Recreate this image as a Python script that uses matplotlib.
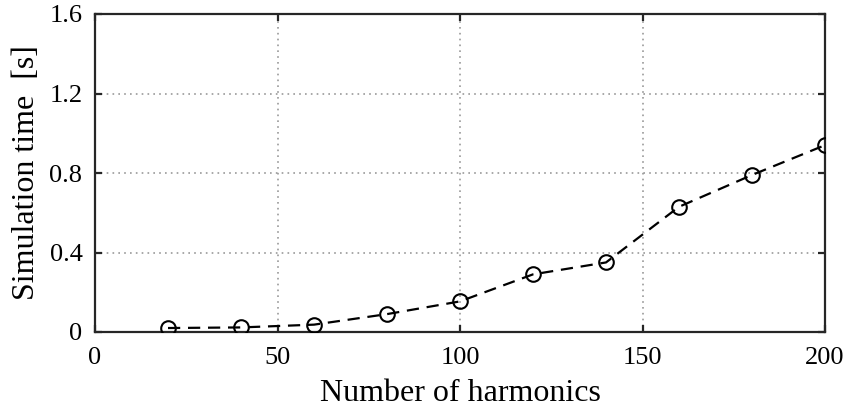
import matplotlib
matplotlib.use("Agg")
import matplotlib.pyplot as plt

# simulation time vs number of harmonics
harmonics = [20, 40, 60, 80, 100, 120, 140, 160, 180, 200]
sim_time = [0.02, 0.023, 0.037, 0.09, 0.154, 0.29, 0.35, 0.63, 0.79, 0.94]

x_ticks = [0, 50, 100, 150, 200]
y_ticks = [0, 0.4, 0.8, 1.2, 1.6]
y_tick_labels = ["0", "0.4", "0.8", "1.2", "1.6"]

plt.rcParams["font.family"] = ["Liberation Serif", "DejaVu Serif"]

fig = plt.figure(figsize=(8.51, 4.17), dpi=100)
ax = fig.add_axes([95 / 851, 85 / 417, 730 / 851, 318 / 417])

ax.plot(harmonics, sim_time, color="black", linewidth=1.6, dashes=(5.5, 3.5),
        marker="o", markersize=10.5, markerfacecolor="none",
        markeredgecolor="black", markeredgewidth=1.5, zorder=3)

ax.set_xlim(0, 200)
ax.set_ylim(0, 1.6)
ax.set_xticks(x_ticks)
ax.set_yticks(y_ticks)
ax.set_yticklabels(y_tick_labels)

ax.grid(True, linestyle=(0, (1, 2.5)), color="#999999", linewidth=1.2)
ax.set_axisbelow(True)

for s in ax.spines.values():
    s.set_linewidth(1.6)
    s.set_color("#262626")

ax.tick_params(direction="in", length=5, width=1.6, color="#262626",
               top=True, right=True, labelsize=19)
ax.tick_params(axis="x", pad=11)
ax.tick_params(axis="y", pad=9)

ax.set_xlabel("Number of harmonics", fontsize=23, labelpad=7)
ax.set_ylabel("Simulation time  [s]", fontsize=23, labelpad=6)

fig.savefig("out.png", dpi=100)
